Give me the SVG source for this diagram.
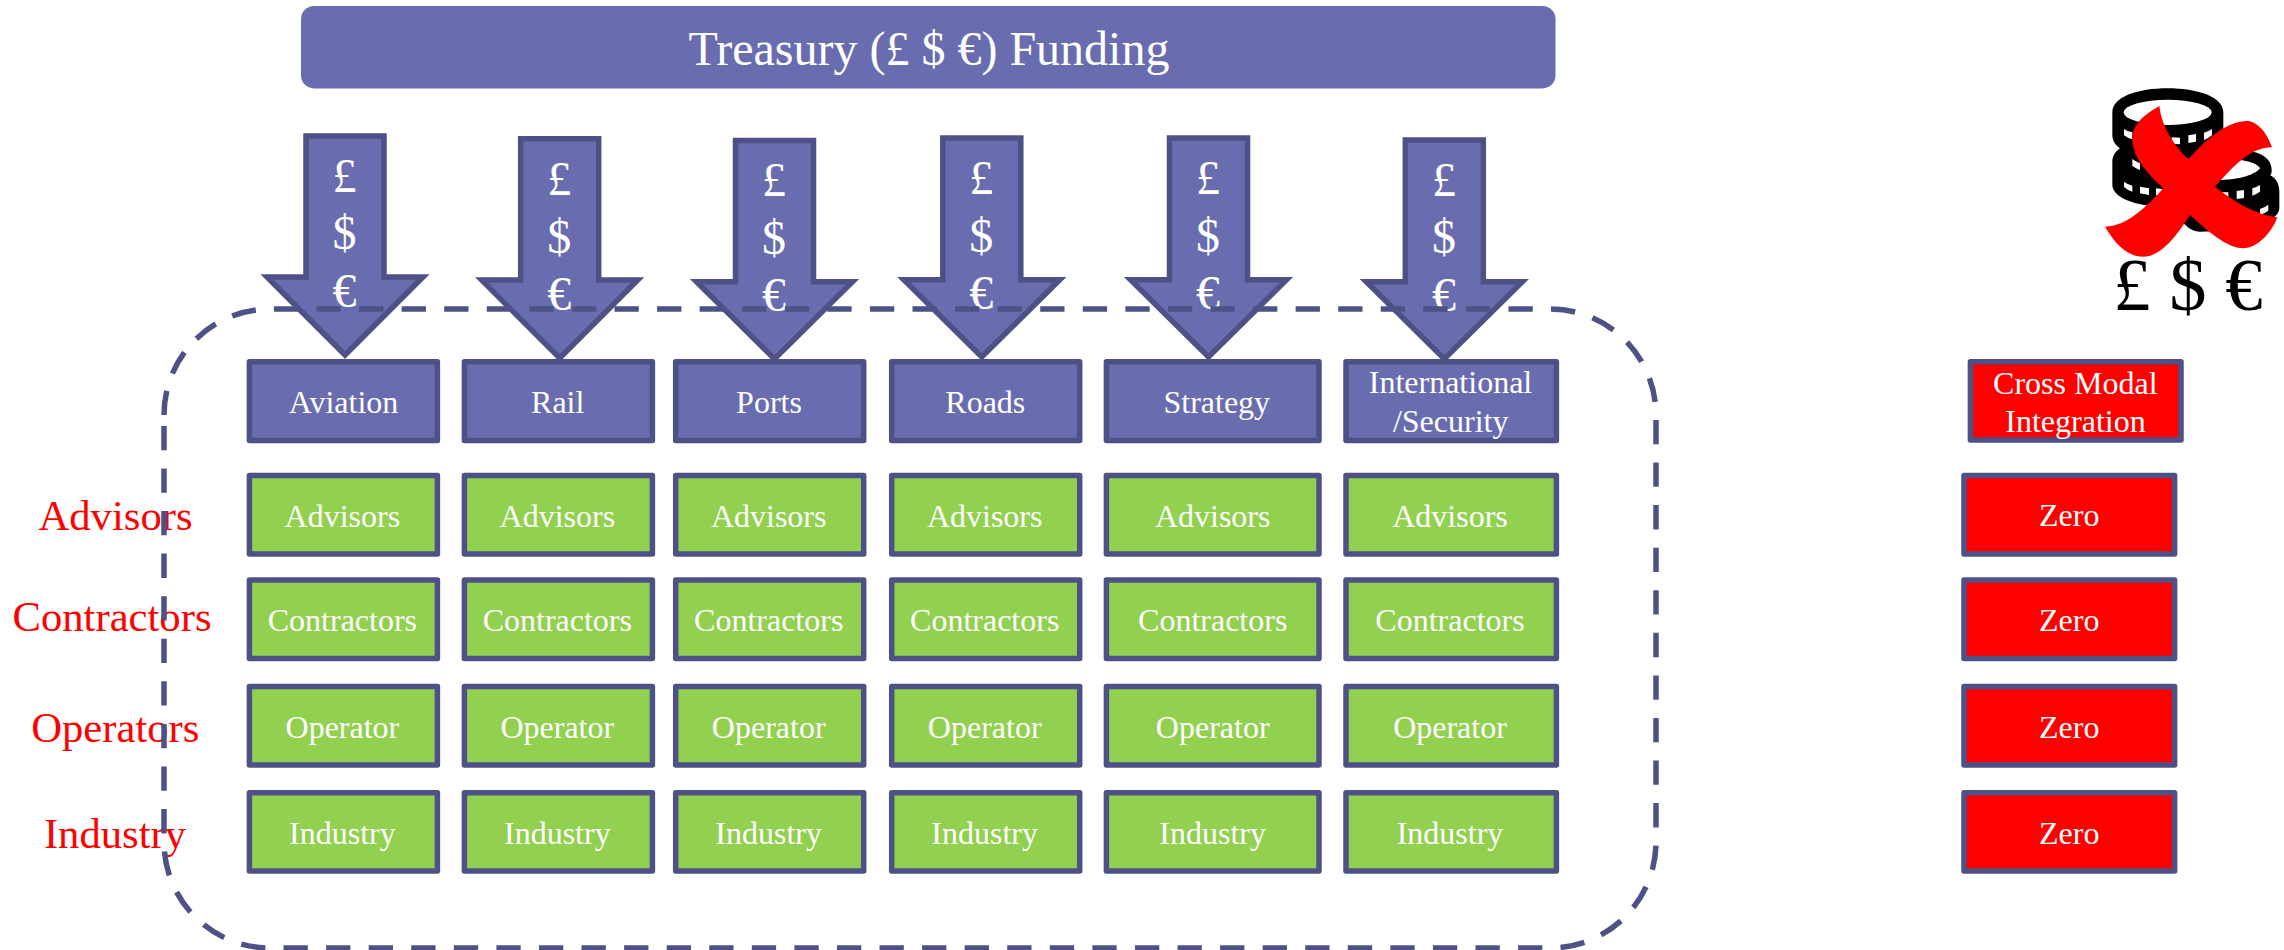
<svg xmlns="http://www.w3.org/2000/svg" width="2284" height="950" viewBox="0 0 2284 950">
<style>
text{font-family:"Liberation Serif","Times New Roman",serif;text-anchor:middle}
.b{stroke:#4d5186;stroke-width:5.5;stroke-linejoin:round}
.p{fill:#696db0}
.g{fill:#92d050}
.r{fill:#ff0000}
.t{fill:#fff;font-size:32px}
.l{fill:#ff0000;font-size:42.67px}
.a{fill:#696db0;stroke:#4d5186;stroke-width:5.5;stroke-linejoin:miter;stroke-miterlimit:10}
.c{fill:#fff;font-size:48px}
.frame{fill:none;stroke:#4d5186;stroke-width:5.5;stroke-dasharray:24.3 18.27}
</style>
<rect width="2284" height="950" fill="#fff"/>
<g id="treasury"><rect x="301" y="6" width="1254.5" height="82.4" rx="13" fill="#696db0"/><text class="c" x="929" y="65">Treasury (£ $ €) Funding</text></g>
<g id="connectors">
<g id="arrow-aviation"><path class="a" d="M306 136H384V277H423L345 355L267 277H306Z"/><text class="c"><tspan x="344.5" y="191.7">£</tspan><tspan x="344.5" y="249.3">$</tspan><tspan x="344.5" y="306.9">€</tspan></text></g>
<g id="arrow-rail"><path class="a" d="M520.7 138.7H598.7V280H637.7L559.7 358L481.7 280H520.7Z"/><text class="c"><tspan x="559.2" y="195">£</tspan><tspan x="559.2" y="252.6">$</tspan><tspan x="559.2" y="310.2">€</tspan></text></g>
<g id="arrow-ports"><path class="a" d="M735.5 140.4H813.5V281.7H852.5L774.5 359L696.5 281.7H735.5Z"/><text class="c"><tspan x="774" y="196">£</tspan><tspan x="774" y="253.6">$</tspan><tspan x="774" y="311.2">€</tspan></text></g>
<g id="arrow-roads"><path class="a" d="M942.8 138H1020.8V279.7H1059.8L981.8 357L903.8 279.7H942.8Z"/><text class="c"><tspan x="981.3" y="194">£</tspan><tspan x="981.3" y="251.6">$</tspan><tspan x="981.3" y="309.2">€</tspan></text></g>
<g id="arrow-strategy"><path class="a" d="M1169.5 138H1247.5V279.7H1286.5L1208.5 357L1130.5 279.7H1169.5Z"/><text class="c"><tspan x="1208" y="194">£</tspan><tspan x="1208" y="251.6">$</tspan><tspan x="1208" y="309.2">€</tspan></text></g>
<g id="arrow-international"><path class="a" d="M1405.3 140H1483.3V281.7H1522.3L1444.3 359L1366.3 281.7H1405.3Z"/><text class="c"><tspan x="1444" y="195.5">£</tspan><tspan x="1444" y="253.1">$</tspan><tspan x="1444" y="310.7">€</tspan></text></g>
</g>
<g id="hdr-aviation"><rect class="b p" x="249.4" y="361.7" width="188" height="78.7"/><text class="t" x="343.5" y="412.7">Aviation</text></g>
<g id="hdr-rail"><rect class="b p" x="464.4" y="361.7" width="188" height="78.7"/><text class="t" x="557.7" y="412.7">Rail</text></g>
<g id="hdr-ports"><rect class="b p" x="675.7" y="361.7" width="188" height="78.7"/><text class="t" x="769" y="412.7">Ports</text></g>
<g id="hdr-roads"><rect class="b p" x="891.7" y="361.7" width="188" height="78.7"/><text class="t" x="985.3" y="412.7">Roads</text></g>
<g id="hdr-strategy"><rect class="b p" x="1106.4" y="361.7" width="212.6" height="78.7"/><text class="t" x="1216.8" y="412.7">Strategy</text></g>
<g id="hdr-international"><rect class="b p" x="1346" y="361.7" width="210.4" height="78.7"/><text class="t"><tspan x="1450.5" y="393.3">International</tspan><tspan x="1450.7" y="431.7">/Security</tspan></text></g>
<g id="advisors-1"><rect class="b g" x="249.4" y="475.4" width="188" height="78.7"/><text class="t" x="342.4" y="526.7">Advisors</text></g>
<g id="advisors-2"><rect class="b g" x="464.4" y="475.4" width="188" height="78.7"/><text class="t" x="557.3" y="526.7">Advisors</text></g>
<g id="advisors-3"><rect class="b g" x="675.7" y="475.4" width="188" height="78.7"/><text class="t" x="768.7" y="526.7">Advisors</text></g>
<g id="advisors-4"><rect class="b g" x="891.7" y="475.4" width="188" height="78.7"/><text class="t" x="984.7" y="526.7">Advisors</text></g>
<g id="advisors-5"><rect class="b g" x="1106.4" y="475.4" width="212.6" height="78.7"/><text class="t" x="1212.7" y="526.7">Advisors</text></g>
<g id="advisors-6"><rect class="b g" x="1346" y="475.4" width="210.4" height="78.7"/><text class="t" x="1450" y="526.7">Advisors</text></g>
<g id="contractors-1"><rect class="b g" x="249.4" y="580" width="188" height="78.4"/><text class="t" x="342.4" y="631">Contractors</text></g>
<g id="contractors-2"><rect class="b g" x="464.4" y="580" width="188" height="78.4"/><text class="t" x="557.3" y="631">Contractors</text></g>
<g id="contractors-3"><rect class="b g" x="675.7" y="580" width="188" height="78.4"/><text class="t" x="768.7" y="631">Contractors</text></g>
<g id="contractors-4"><rect class="b g" x="891.7" y="580" width="188" height="78.4"/><text class="t" x="984.7" y="631">Contractors</text></g>
<g id="contractors-5"><rect class="b g" x="1106.4" y="580" width="212.6" height="78.4"/><text class="t" x="1212.7" y="631">Contractors</text></g>
<g id="contractors-6"><rect class="b g" x="1346" y="580" width="210.4" height="78.4"/><text class="t" x="1450" y="631">Contractors</text></g>
<g id="operator-1"><rect class="b g" x="249.4" y="686.4" width="188" height="78.7"/><text class="t" x="342.4" y="737.7">Operator</text></g>
<g id="operator-2"><rect class="b g" x="464.4" y="686.4" width="188" height="78.7"/><text class="t" x="557.3" y="737.7">Operator</text></g>
<g id="operator-3"><rect class="b g" x="675.7" y="686.4" width="188" height="78.7"/><text class="t" x="768.7" y="737.7">Operator</text></g>
<g id="operator-4"><rect class="b g" x="891.7" y="686.4" width="188" height="78.7"/><text class="t" x="984.7" y="737.7">Operator</text></g>
<g id="operator-5"><rect class="b g" x="1106.4" y="686.4" width="212.6" height="78.7"/><text class="t" x="1212.7" y="737.7">Operator</text></g>
<g id="operator-6"><rect class="b g" x="1346" y="686.4" width="210.4" height="78.7"/><text class="t" x="1450" y="737.7">Operator</text></g>
<g id="industry-1"><rect class="b g" x="249.4" y="792.7" width="188" height="78.4"/><text class="t" x="342.4" y="844">Industry</text></g>
<g id="industry-2"><rect class="b g" x="464.4" y="792.7" width="188" height="78.4"/><text class="t" x="557.3" y="844">Industry</text></g>
<g id="industry-3"><rect class="b g" x="675.7" y="792.7" width="188" height="78.4"/><text class="t" x="768.7" y="844">Industry</text></g>
<g id="industry-4"><rect class="b g" x="891.7" y="792.7" width="188" height="78.4"/><text class="t" x="984.7" y="844">Industry</text></g>
<g id="industry-5"><rect class="b g" x="1106.4" y="792.7" width="212.6" height="78.4"/><text class="t" x="1212.7" y="844">Industry</text></g>
<g id="industry-6"><rect class="b g" x="1346" y="792.7" width="210.4" height="78.4"/><text class="t" x="1450" y="844">Industry</text></g>
<g id="cross-modal"><rect class="b r" x="1970.4" y="361.7" width="210.6" height="78.4"/><text class="t"><tspan x="2075.3" y="394">Cross Modal</tspan><tspan x="2075.5" y="432">Integration</tspan></text></g>
<g id="zero-1"><rect class="b r" x="1964" y="475.4" width="210.6" height="78.7"/><text class="t" x="2069.2" y="526">Zero</text></g>
<g id="zero-2"><rect class="b r" x="1964" y="580" width="210.6" height="78.4"/><text class="t" x="2069.2" y="631">Zero</text></g>
<g id="zero-3"><rect class="b r" x="1964" y="686.4" width="210.6" height="78.7"/><text class="t" x="2069.2" y="738.3">Zero</text></g>
<g id="zero-4"><rect class="b r" x="1964" y="792.7" width="210.6" height="78.4"/><text class="t" x="2069.2" y="844">Zero</text></g>
<g id="row-labels">
<text class="l" x="115.5" y="530">Advisors</text>
<text class="l" x="112" y="631">Contractors</text>
<text class="l" x="115.3" y="741.7">Operators</text>
<text class="l" x="115" y="847.7">Industry</text>
</g>
<g id="coins" transform="translate(2040 60) scale(.33333)">
<path fill="#000" d="M217 157C217 110 295 85 383 85C471 85 550 110 550 157V225C550 240 545 250 535 258L550 270C600 265 695 270 695 330C695 342 692 345 690 345C710 355 718 375 718 395V445C718 490 600 515 480 515C440 515 420 470 380 440C280 440 217 410 217 375V305C217 290 225 275 240 265C225 255 217 240 217 225Z"/>
<ellipse cx="383" cy="157" rx="132" ry="38" fill="#fff"/>
<path fill="#fff" d="M252 207Q262 215 277 217V238Q262 234 252 226ZM395 232L420 233V253L395 251ZM445 226L468 222V245L445 249ZM492 218Q506 214 516 207V226Q506 235 492 240ZM277 297Q287 305 300 310V330Q287 326 277 317ZM252 365Q262 373 277 377V395Q262 390 252 381ZM300 380L327 385V405L300 400ZM348 385L366 387V408L348 406ZM520 360C580 362 640 350 660 325C650 305 600 298 560 298ZM545 397L565 397V419L545 418ZM590 393L612 390V414L590 417ZM637 385Q650 382 660 375V395Q650 402 637 407ZM660 447Q675 442 685 434V452Q675 460 660 465Z"/>
<path fill="#ff0000" d="M358 138C365 200 400 255 445 298C500 235 560 185 620 183C650 183 680 215 696 262C630 262 580 320 525 380C590 430 650 465 712 472C695 520 650 565 610 565C560 565 500 510 450 465C420 510 370 590 310 590C260 590 225 550 195 500C260 500 320 440 370 385C310 330 277 285 277 235C277 190 320 160 358 138Z"/>
</g>
<text id="currencies" x="2188" y="310" style="font-size:74.67px;fill:#000">£ $ €</text>
<g id="frame-group"><path class="frame" d="M164 415A106 106 0 0 1 270 309H1550A106 106 0 0 1 1656 415V842A106 106 0 0 1 1550 948H270A106 106 0 0 1 164 842Z"/></g>
</svg>
